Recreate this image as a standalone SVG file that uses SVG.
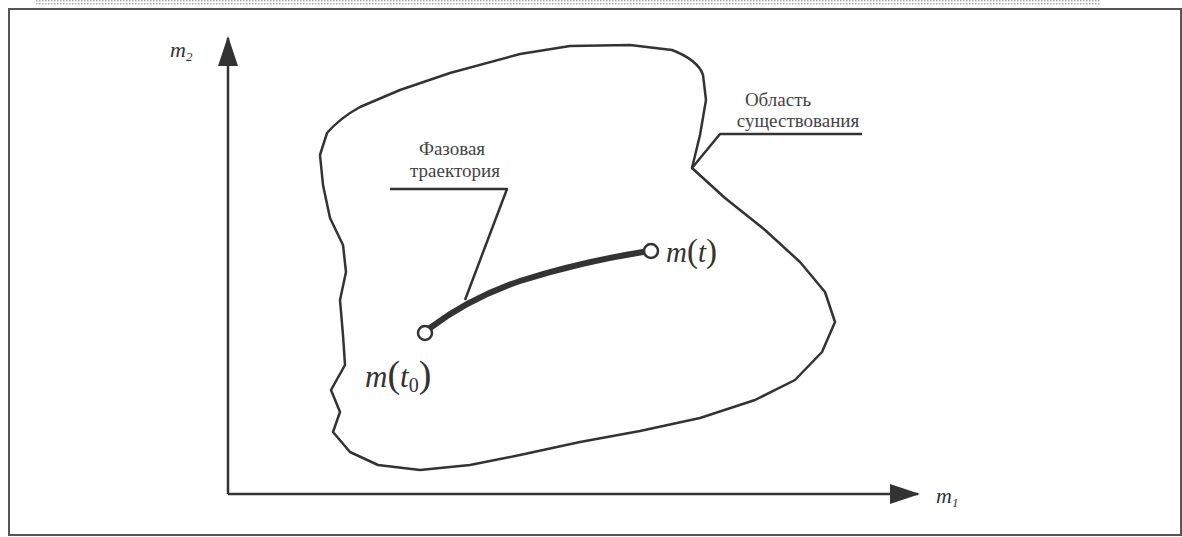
<svg xmlns="http://www.w3.org/2000/svg" width="1182" height="537" viewBox="0 0 1182 537">
<defs>
<pattern id="hatch" width="3" height="3" patternUnits="userSpaceOnUse">
<rect width="3" height="3" fill="#fff"/>
<rect width="1.5" height="1.5" fill="#aaa"/>
</pattern>
<marker id="arr" viewBox="0 0 30 20" refX="28" refY="10" markerWidth="30" markerHeight="20" markerUnits="userSpaceOnUse" orient="auto">
<path d="M0,0 L30,10 L0,20 Z" fill="#333"/>
</marker>
</defs>
<style>
.ln{fill:none;stroke:#333;stroke-width:2.5;stroke-linejoin:round}
.lbl{font-family:"Liberation Serif",serif;font-size:19px;fill:#444}
.math{font-family:"Liberation Serif",serif;font-style:italic;fill:#333}
.pt{fill:#fff;stroke:#333;stroke-width:2.5}
</style>
<rect x="0" y="0" width="1182" height="537" fill="#fff"/>
<rect x="35" y="0" width="1065" height="6" fill="url(#hatch)"/>
<rect x="9" y="9" width="1172" height="526" fill="none" stroke="#555" stroke-width="2"/>
<g id="axes">
<line class="ln" x1="228" y1="494" x2="228" y2="38" marker-end="url(#arr)"/>
<line class="ln" x1="228" y1="494" x2="918" y2="494" marker-end="url(#arr)"/>
<text class="math" x="170" y="57" font-size="22">m<tspan font-size="13" dy="4">2</tspan></text>
<text class="math" x="936" y="503" font-size="22">m<tspan font-size="13" dy="4">1</tspan></text>
</g>
<g id="region">
<path class="ln" d="M327,133 Q340,118 360,107 L400,90 L450,73 L520,54 L570,46 L630,45 L672,50 Q698,60 703,75 L706,100 L700,135 L692,168 L725,198 L765,230 L800,262 L825,292 L835,322 L822,352 L795,380 L755,400 L700,418 L640,431 L580,442 L520,455 L470,465 L420,470 L378,465 L350,452 L333,432 L340,412 L331,390 L345,365 L343,335 L340,300 L346,272 L343,245 L330,218 L323,185 L320,155 Z"/>
<text class="lbl" x="778" y="106" text-anchor="middle">Область</text>
<text class="lbl" x="798" y="127" text-anchor="middle">существования</text>
</g>
<g id="trajectory">
<path d="M430,328 Q470,298 520,281 Q580,262 643,252" fill="none" stroke="#333" stroke-width="6" stroke-linecap="round"/>
<circle class="pt" cx="425" cy="333" r="7"/>
<circle class="pt" cx="651" cy="251" r="7"/>
<text class="lbl" x="452" y="155" text-anchor="middle">Фазовая</text>
<text class="lbl" x="455" y="177" text-anchor="middle">траектория</text>
<text class="math" x="666" y="262" font-size="29">m<tspan font-style="normal" font-size="33">(</tspan>t<tspan font-style="normal" font-size="33">)</tspan></text>
<text class="math" x="365" y="387" font-size="31">m<tspan font-style="normal" font-size="38">(</tspan>t<tspan font-style="normal" font-size="20" dy="5">0</tspan><tspan font-style="normal" font-size="38" dy="-5">)</tspan></text>
</g>
<g id="connectors">
<polyline class="ln" points="390,189 507,189 465,300"/>
<polyline class="ln" points="862,134 720,134 692,168"/>
</g>
</svg>
